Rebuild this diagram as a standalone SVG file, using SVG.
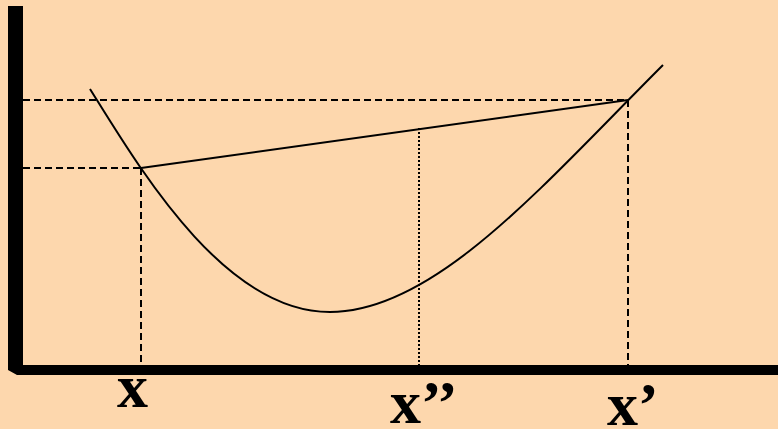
<svg xmlns="http://www.w3.org/2000/svg" width="778" height="429" viewBox="0 0 778 429">
<style>
.bg{fill:#FDD7AD}
.axis{fill:#000}
.dash{stroke:#000;stroke-width:2;stroke-dasharray:7 4;fill:none}
.dot{stroke:#000;stroke-width:2;stroke-dasharray:2 2;fill:none}
.line{stroke:#000;stroke-width:2;fill:none}
.lbl{font-family:"Liberation Serif","Times New Roman",serif;font-weight:bold;font-size:62px;fill:#000}
</style>
<rect class="bg" x="0" y="0" width="778" height="429"/>
<g id="axes">
<polygon class="axis" points="8,6 23,6 23,365 778,365 778,375 17,375 8,370"/>
</g>
<g id="connectors">
<line class="dash" x1="23" y1="100" x2="628" y2="100"/>
<line class="dash" x1="23" y1="168" x2="141" y2="168"/>
<line class="dash" x1="141" y1="168" x2="141" y2="365"/>
<line class="dash" x1="628" y1="100" x2="628" y2="365"/>
<line class="dot" x1="419" y1="128" x2="419" y2="365"/>
<line class="line" x1="141" y1="168" x2="628" y2="100"/>
</g>
<g id="curve">
<path class="line" d="M90,89 C140,169 224,312 330,312 C435,312 543,185 663,65"/>
</g>
<g id="label-x"><text class="lbl" x="117" y="407">x</text></g>
<g id="label-x2"><text class="lbl" x="390" y="423">x’’</text></g>
<g id="label-x1"><text class="lbl" x="607" y="425">x’</text></g>
</svg>
